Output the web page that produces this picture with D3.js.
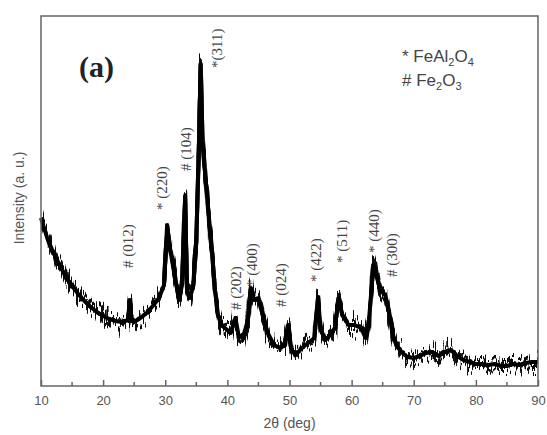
<!DOCTYPE html>
<html>
<head>
<meta charset="utf-8">
<script src="https://cdn.jsdelivr.net/npm/d3@7"></script>
<style>
  body { margin: 0; background: #fff; }
  svg { display: block; }
</style>
</head>
<body>
<div class="chart"></div>
<script>
// 2-theta positions (deg) and intensity (arbitrary units)
var twoTheta = [10, 10.5, 11, 12, 13, 14, 15, 16, 17, 18, 19, 20, 21, 22, 23, 24, 24.3, 24.6, 25, 26, 27, 28, 29,
  29.8, 30.3, 30.8, 31.5, 32.2, 32.7, 33.2, 33.5, 34, 34.5, 35, 35.4, 35.7, 36, 36.5, 37, 37.5, 38, 38.5, 39,
  40, 40.5, 41.3, 41.8, 42.5, 43.3, 43.8, 44.3, 45, 45.7, 46.5, 47.5, 48.5, 49.3, 49.8, 50.3, 51, 52, 53, 54,
  54.6, 55, 55.8, 56.5, 57.3, 57.9, 58.5, 59.5, 60.5, 61.5, 62.3, 62.8, 63.5, 64, 64.6, 65.4, 66, 66.6, 67.2,
  68, 69, 70, 71, 72, 73, 74, 75, 76, 77, 78, 79, 80, 81, 82, 83, 84, 85, 86, 87, 88, 89, 90];
var intensity = [168, 158, 148, 133, 121, 109, 100, 92, 85, 79, 74, 70, 67, 65, 64, 66, 86, 65, 64, 68, 73, 80, 88,
  101, 161, 136, 111, 86, 101, 190, 96, 88, 101, 146, 236, 322, 246, 206, 171, 136, 96, 71, 61,
  56, 53, 68, 51, 48, 66, 98, 86, 88, 71, 53, 41, 38, 41, 61, 36, 31, 38, 43, 48,
  89, 56, 46, 51, 58, 88, 71, 61, 61, 58, 48, 66, 121, 111, 96, 91, 76, 51, 41,
  34, 29, 28, 30, 33, 34, 30, 34, 36, 30, 26, 24, 22, 22, 21, 22, 20, 20, 22, 21, 23, 24, 24];

// peak labels: text, label x (deg), label bottom (intensity units)
var peakAngles = [24.0, 29.4, 33.4, 38.4, 41.4, 43.9, 48.6, 54.3, 58.4, 63.6, 66.5];
var peakText = ["# (012)", "* (220)", "# (104)", "*(311)", "# (202)", "* (400)", "# (024)", "* (422)", "* (511)", "* (440)", "# (300)"];
var peakBottom = [118, 176, 215, 318, 76, 99, 79, 104, 123, 133, 109];

var xTicks = [10, 20, 30, 40, 50, 60, 70, 80, 90];
var xMinor = [15, 25, 35, 45, 55, 65, 75, 85];

var svgWidth = 547;
var svgHeight = 435;
var margin = { top: 16, right: 9, bottom: 49, left: 41 };
var width = svgWidth - margin.left - margin.right;
var height = svgHeight - margin.top - margin.bottom;

var svg = d3.select(".chart")
  .append("svg")
  .attr("width", svgWidth)
  .attr("height", svgHeight);

// roughen the trace vertically so it looks like noisy counts
function addRough(id, seed, scale) {
  var filter = svg.append("defs").append("filter")
    .attr("id", id)
    .attr("filterUnits", "userSpaceOnUse")
    .attr("x", 0).attr("y", 0)
    .attr("width", svgWidth).attr("height", svgHeight);
  filter.append("feTurbulence")
    .attr("type", "fractalNoise")
    .attr("baseFrequency", "0.5 0.03")
    .attr("numOctaves", 2)
    .attr("seed", seed)
    .attr("result", "noise");
  // keep red at 0.5 so nothing moves sideways
  filter.append("feColorMatrix")
    .attr("in", "noise")
    .attr("type", "matrix")
    .attr("values", "0 0 0 0 0.5  0 1 0 0 0  0 0 0 0 0  0 0 0 0 1")
    .attr("result", "vnoise");
  filter.append("feDisplacementMap")
    .attr("in", "SourceGraphic")
    .attr("in2", "vnoise")
    .attr("scale", scale)
    .attr("xChannelSelector", "R")
    .attr("yChannelSelector", "G");
}
addRough("rough1", 4, 40);
addRough("rough2", 11, 40);

var chartGroup = svg.append("g")
  .attr("transform", `translate(${margin.left}, ${margin.top})`);

var xScale = d3.scaleLinear().domain([10, 90]).range([0, width]);
var yScale = d3.scaleLinear().domain([0, height]).range([height, 0]);

var pattern = twoTheta.map((t, i) => [t, intensity[i]]);
var line = d3.line().x(d => xScale(d[0])).y(d => yScale(d[1]));

// noisy pattern drawn as a jagged band
["rough1", "rough2"].forEach(function(f) {
  chartGroup.append("path")
    .datum(pattern)
    .attr("fill", "none")
    .attr("stroke", "#111")
    .attr("stroke-width", 4)
    .attr("stroke-linejoin", "round")
    .attr("filter", `url(#${f})`)
    .attr("d", line);
});

chartGroup.append("path")
  .datum(pattern)
  .attr("fill", "none")
  .attr("stroke", "#000")
  .attr("stroke-width", 4)
  .attr("stroke-linejoin", "round")
  .attr("d", line);

// frame
chartGroup.append("rect")
  .attr("width", width)
  .attr("height", height)
  .attr("fill", "none")
  .attr("stroke", "#666")
  .attr("stroke-width", 1.5);

// bottom axis with inward ticks
var xAxis = chartGroup.append("g")
  .attr("transform", `translate(0, ${height})`)
  .call(d3.axisBottom(xScale).tickValues(xTicks).tickSize(-6).tickPadding(10).tickFormat(d3.format("d")));
xAxis.select(".domain").remove();
xAxis.selectAll("line").attr("stroke", "#666").attr("stroke-width", 1.5);
xAxis.selectAll("text")
  .attr("fill", "#555")
  .style("font-family", "Liberation Sans, Arial, sans-serif")
  .style("font-size", "13px");

chartGroup.append("g")
  .selectAll("line")
  .data(xMinor)
  .enter()
  .append("line")
  .attr("x1", d => xScale(d))
  .attr("x2", d => xScale(d))
  .attr("y1", height)
  .attr("y2", height - 4)
  .attr("stroke", "#666")
  .attr("stroke-width", 1.5);

// axis titles
svg.append("text")
  .attr("x", margin.left + width / 2)
  .attr("y", 428)
  .attr("text-anchor", "middle")
  .attr("fill", "#555")
  .style("font-family", "Liberation Sans, Arial, sans-serif")
  .style("font-size", "14px")
  .text("2θ (deg)");

svg.append("text")
  .attr("transform", "rotate(-90)")
  .attr("x", -198)
  .attr("y", 24)
  .attr("text-anchor", "middle")
  .attr("fill", "#555")
  .style("font-family", "Liberation Sans, Arial, sans-serif")
  .style("font-size", "14px")
  .text("Intensity (a. u.)");

// peak labels
chartGroup.selectAll(".peak")
  .data(peakText)
  .enter()
  .append("text")
  .attr("class", "peak")
  .attr("transform", (d, i) => `translate(${xScale(peakAngles[i]) + 5}, ${yScale(peakBottom[i])}) rotate(-90)`)
  .attr("fill", "#444")
  .style("font-family", "Liberation Serif, Times New Roman, serif")
  .style("font-size", "15px")
  .text(d => d);

// panel label
chartGroup.append("text")
  .attr("x", 38)
  .attr("y", 61)
  .attr("fill", "#222")
  .style("font-family", "Liberation Serif, Times New Roman, serif")
  .style("font-weight", "bold")
  .style("font-size", "30px")
  .text("(a)");

// legend
var legend = chartGroup.append("g")
  .attr("fill", "#444")
  .style("font-family", "Liberation Sans, Arial, sans-serif")
  .style("font-size", "17px");

var l1 = legend.append("text").attr("x", 361).attr("y", 46);
l1.append("tspan").text("* FeAl");
l1.append("tspan").attr("dy", 4).style("font-size", "11px").text("2");
l1.append("tspan").attr("dy", -4).text("O");
l1.append("tspan").attr("dy", 4).style("font-size", "11px").text("4");

var l2 = legend.append("text").attr("x", 361).attr("y", 70);
l2.append("tspan").text("# Fe");
l2.append("tspan").attr("dy", 4).style("font-size", "11px").text("2");
l2.append("tspan").attr("dy", -4).text("O");
l2.append("tspan").attr("dy", 4).style("font-size", "11px").text("3");
</script>
</body>
</html>
